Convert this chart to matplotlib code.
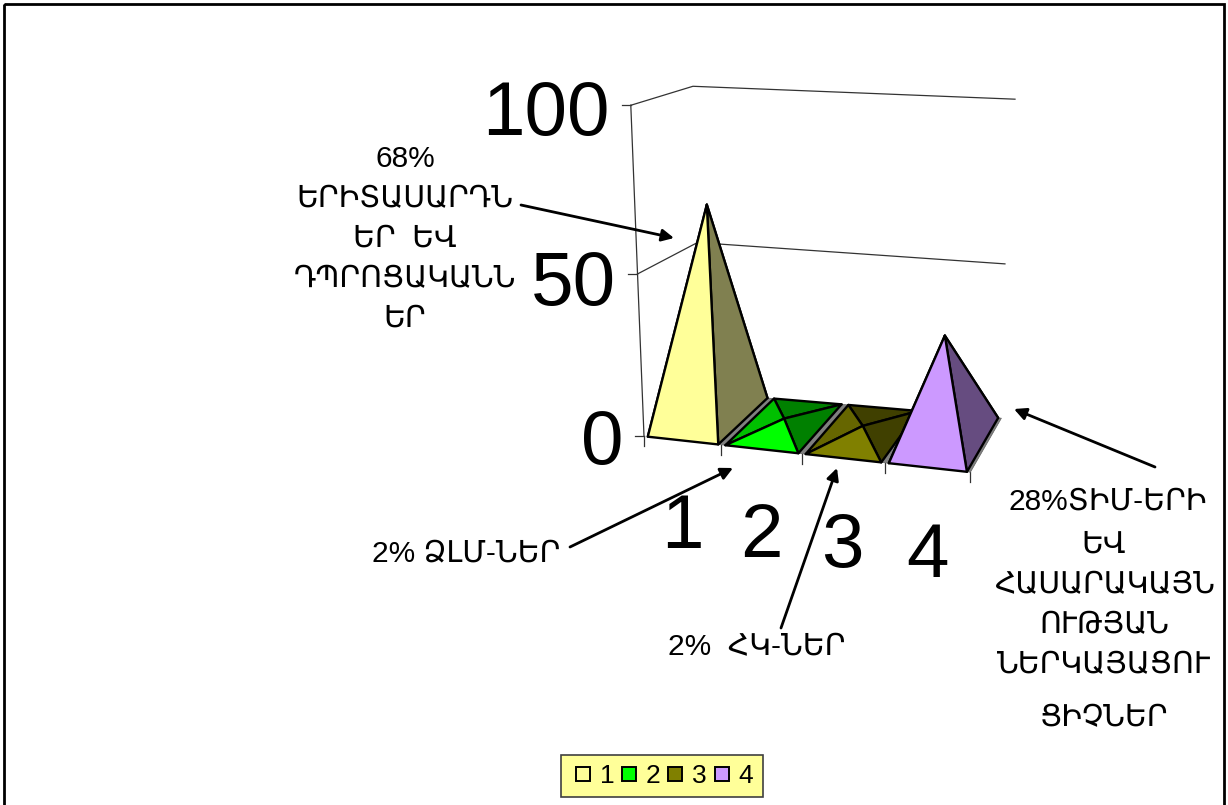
import matplotlib
matplotlib.use("Agg")
import matplotlib.pyplot as plt
from matplotlib.lines import Line2D
from matplotlib.patches import Polygon, Rectangle

plt.rcParams['font.family'] = ['Liberation Sans', 'DejaVu Sans']

# data
categories = ['1', '2', '3', '4']
values = [68, 2, 2, 28]
value_ticks = [0, 50, 100]
front_colors = ['#FFFF99', '#00FF00', '#808000', '#CC99FF']
left_colors = ['#CCCC7A', '#00C000', '#666600', '#A37ACC']
right_colors = ['#808050', '#008000', '#404000', '#664C80']
back_colors = ['#808050', '#008000', '#404000', '#664C80']

note_young = ['68%', 'ԵՐԻՏԱՍԱՐԴՆ', 'ԵՐ  ԵՎ', 'ԴՊՐՈՑԱԿԱՆՆ', 'ԵՐ']
note_media = '2% ՁԼՄ-ՆԵՐ'
note_hk = '2%  ՀԿ-ՆԵՐ'
note_lsg = ['28%ՏԻՄ-ԵՐԻ', 'ԵՎ', 'ՀԱՍԱՐԱԿԱՅՆ', 'ՈՒԹՅԱՆ', 'ՆԵՐԿԱՅԱՑՈՒ', 'ՑԻՉՆԵՐ']


def project(pos, depth, value=0, scale=3.2, spread=0.00075):
    # oblique view of the 3d chart box, goes to pixels of the slide
    x0 = 644 + 76 * pos + 1.4 * pos ** 2
    y0 = 436.5 + 0.11 * (x0 - 646)
    x = x0 + (55 - 6 * pos) * depth
    y = y0 - (44 + 2.5 * pos) * depth
    x = x + (x - 820) * spread * value
    return x, y - value * scale


def pyramid_scale(pos):
    return 3.03 + 0.21 * pos


fig = plt.figure(figsize=(12.28, 8.05), dpi=100)
ax = fig.add_axes([0, 0, 1, 1])
ax.set_xlim(0, 1228)
ax.set_ylim(805, 0)
ax.axis('off')

ax.add_patch(Rectangle((4, 4), 1220, 830, fill=False, edgecolor='black', lw=2))

# wall lines and value axis
label_shift = [8, 11, 10]
for v, shift in zip(value_ticks, label_shift):
    bow = v * (100 - v) * 0.0013
    xa, ya = project(0, 0, v, 3.31)
    ya = ya + bow
    ax.plot([xa - 9, xa], [ya, ya], color='#333333', lw=0.9)
    ax.text(xa - 21, ya + shift, str(v), fontsize=55, ha='right', va='center')
    if v > 0:
        xb, yb = project(0, 1, v, 3.06)
        xc, yc = project(4, 1, v, 3.19)
        ax.plot([xa, xb + 3, xc - bow], [ya, yb + bow, yc + 1.6 * bow], color='#333333', lw=0.9)
xa0, ya0 = project(0, 0, 0, 3.31)
xa1, ya1 = project(0, 0, 100, 3.31)
ax.plot([xa0, xa1], [ya0, ya1], color='#333333', lw=0.9)

# category ticks and labels
label_drop = [88, 88, 89, 90]
for i in range(5):
    xt, yt = project(i, 0)
    ax.plot([xt, xt], [yt, yt + 10], color='#333333', lw=0.9)
for i, cat in enumerate(categories):
    xt, yt = project(i + 0.5, 0)
    ax.text(xt, yt + label_drop[i], cat, fontsize=55, ha='center', va='center')

# pyramids with the grey floor gaps under them
for i, v in enumerate(values):
    a, b = i + 0.05, i + 0.96
    end = i + 1.05 if i < len(values) - 1 else i + 1.0
    strip = [project(b, 0), project(end, 0), project(end, 1), project(b, 1)]
    ax.add_patch(Polygon(strip, facecolor='#808080', edgecolor='#606060', lw=0.5, zorder=3 + i))
    fl, fr = project(a, 0), project(b, 0)
    bl, br = project(a, 1), project(b, 1)
    apex = project(i + 0.5, 0.5, v, pyramid_scale(i + 0.5), spread=0.0002)
    faces = [([bl, br, apex], back_colors[i]),
             ([fl, bl, apex], left_colors[i]),
             ([fr, br, apex], right_colors[i]),
             ([fl, fr, apex], front_colors[i])]
    for pts, col in faces:
        ax.add_patch(Polygon(pts, facecolor=col, edgecolor='black', lw=1.7,
                             joinstyle='round', zorder=4 + i))

# notes
for i, line in enumerate(note_young):
    ax.text(405, 159 + i * 40, line, fontsize=21.5, ha='center', va='center')
ax.text(372, 553, note_media, fontsize=21.5, ha='left', va='center')
ax.text(668, 647, note_hk, fontsize=21.5, ha='left', va='center')
lsg_y = [502, 545, 585, 625, 665, 718]
lsg_x = [1108, 1104, 1104, 1104, 1104, 1104]
for line, x, y in zip(note_lsg, lsg_x, lsg_y):
    ax.text(x, y, line, fontsize=21.5, ha='center', va='center')

arrows = [((521, 205), (674, 238)), ((570, 547), (733, 468)),
          ((781, 628), (837, 468)), ((1155, 467), (1014, 409))]
for start, end in arrows:
    ax.annotate('', xy=end, xytext=start, zorder=10,
                arrowprops=dict(arrowstyle='-|>', color='black', lw=2,
                                shrinkA=0, shrinkB=0, mutation_scale=18))

# legend
handles = [Line2D([], [], ls='none', marker='s', ms=10.5, mfc=c, mec='black', mew=1.4)
           for c in front_colors]
leg = ax.legend(handles, categories, ncol=4, fontsize=19, frameon=True, fancybox=False,
                facecolor='#FFFF99', edgecolor='#404040', framealpha=1,
                loc='center', bbox_to_anchor=(662, 776), bbox_transform=ax.transData,
                handlelength=0.9, handletextpad=0.2, columnspacing=0.1,
                borderpad=0.35, borderaxespad=0)
leg.get_frame().set_linewidth(1.2)

fig.savefig('out.png', dpi=100)
